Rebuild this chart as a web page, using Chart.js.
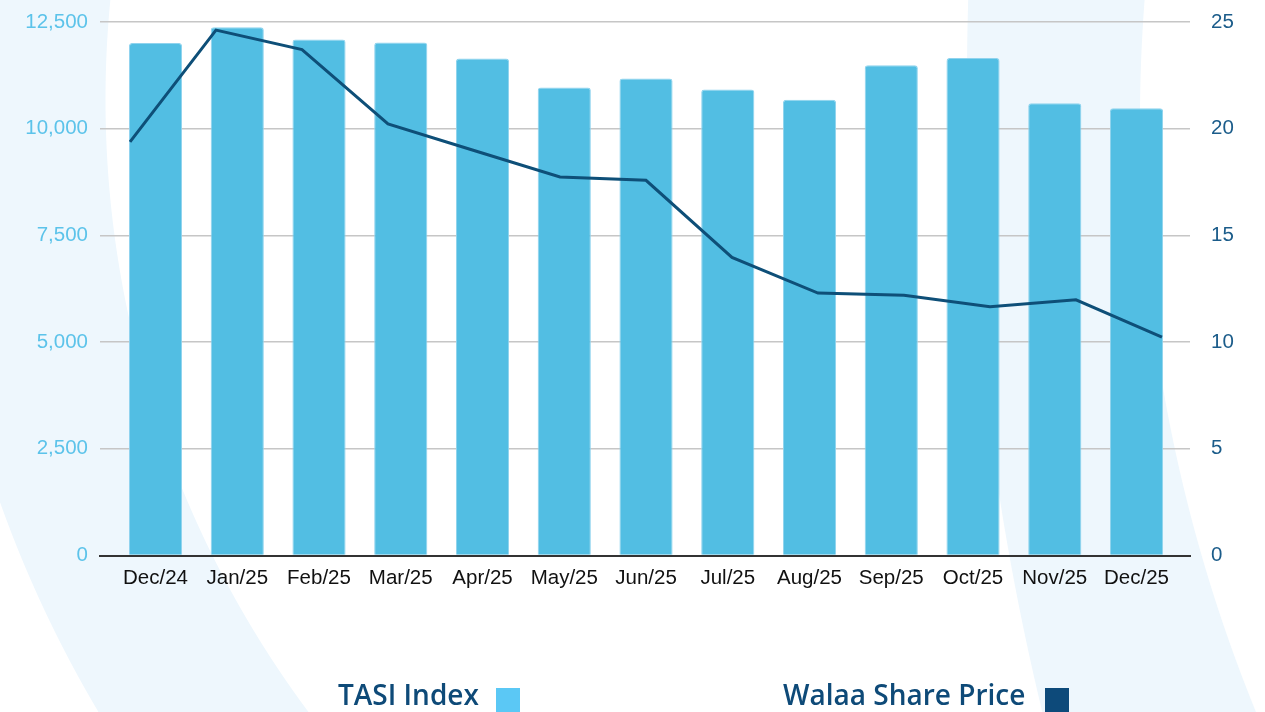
<!DOCTYPE html>
<html>
<head>
<meta charset="utf-8">
<script src="https://cdn.jsdelivr.net/npm/chart.js@4.4.1/dist/chart.umd.min.js"></script>
<style>
  html, body { margin: 0; padding: 0; background: #fff; }
  #wrap { position: relative; width: 1265px; height: 712px; overflow: hidden; }
  #c { position: absolute; left: 0; top: 0; }
  .lg { position: absolute; font-family: "Open Sans", sans-serif; font-size: 28px; line-height: 29px;
        font-weight: 600; color: #0e4a78; white-space: nowrap; }
  .box { position: absolute; width: 24px; height: 24px; }
</style>
</head>
<body>
<div id="wrap">
  <canvas id="c" width="1265" height="712"></canvas>
  <div class="lg" id="lg1" style="left:338px; top:680px;">TASI Index</div>
  <div class="box" style="left:496px; top:688px; background:#5bc8f5;"></div>
  <div class="lg" id="lg2" style="left:783px; top:680px;">Walaa Share Price</div>
  <div class="box" style="left:1045px; top:688px; background:#0d4a7a;"></div>
</div>
<script>
const categories = ["Dec/24","Jan/25","Feb/25","Mar/25","Apr/25","May/25","Jun/25","Jul/25","Aug/25","Sep/25","Oct/25","Nov/25","Dec/25"];
const tasiIndex = [12010, 12377, 12088, 12018, 11643, 10963, 11174, 10916, 10681, 11486, 11659, 10595, 10477];
const walaaSharePrice = [19.38, 24.62, 23.71, 20.22, 18.98, 17.74, 17.58, 13.97, 12.30, 12.19, 11.66, 11.98, 10.23];
const leftTicks = [0, 2500, 5000, 7500, 10000, 12500];
const rightTicks = [0, 5, 10, 15, 20, 25];

const BG = '#eef7fd';
function ringPath(ctx, cx, cy, rOuter, cxI, cyI, rInner, y0, y1) {
  ctx.beginPath();
  for (let y = y0; y <= y1; y += 4) {
    const x = cx - Math.sqrt(Math.max(0, rOuter * rOuter - (y - cy) * (y - cy)));
    if (y === y0) ctx.moveTo(x, y); else ctx.lineTo(x, y);
  }
  for (let y = y1; y >= y0; y -= 4) {
    const x = cxI - Math.sqrt(Math.max(0, rInner * rInner - (y - cyI) * (y - cyI)));
    ctx.lineTo(x, y);
  }
  ctx.closePath();
  ctx.fill();
}
const backgroundPlugin = {
  id: 'bgBands',
  beforeDraw(chart) {
    const ctx = chart.ctx;
    ctx.save();
    ctx.fillStyle = '#ffffff';
    ctx.fillRect(0, 0, chart.width, chart.height);
    ctx.fillStyle = BG;
    ringPath(ctx, 1130.5, 99.7, 1200, 1130.5, 99.7, 1025, -4, 716);
    ringPath(ctx, 3656, 80, 2689, 2709, 120, 1569, -4, 716);
    ctx.restore();
  }
};

const leftAxisWidth = 100, rightAxisWidth = 75;
function fixVertical(width) {
  return function (s) { s.width = width; s.paddingTop = 0; s.paddingBottom = 0; };
}

new Chart(document.getElementById('c'), {
  type: 'bar',
  data: {
    datasets: [
      {
        type: 'line',
        label: 'Walaa Share Price',
        data: categories.map((c, i) => ({ x: i, y: walaaSharePrice[i] })),
        xAxisID: 'x2', yAxisID: 'y1',
        borderColor: '#0e4f78', borderWidth: 3,
        pointRadius: 0, tension: 0, order: 0
      },
      {
        type: 'bar',
        label: 'TASI Index',
        data: categories.map((c, i) => ({ x: i, y: tasiIndex[i] })),
        xAxisID: 'x', yAxisID: 'y',
        backgroundColor: '#52bee3',
        borderColor: '#8fd3ee', borderWidth: 1,
        borderRadius: { topLeft: 3, topRight: 3 },
        barPercentage: 0.65, categoryPercentage: 1,
        grouped: false,
        order: 1
      }
    ]
  },
  options: {
    responsive: false,
    animation: false,
    layout: { padding: { top: 22, bottom: 116.5, left: 0, right: 0 } },
    plugins: { legend: { display: false }, tooltip: { enabled: false } },
    scales: {
      x: {
        type: 'linear', position: 'bottom', offset: false,
        min: -0.679, max: 12.654,
        afterFit(s) { s.height = 40; s.paddingLeft = 0; s.paddingRight = 0; },
        grid: { display: false, drawTicks: false, offset: false },
        border: { display: true, color: '#333333', width: 2 },
        ticks: {
          stepSize: 1, includeBounds: false, autoSkip: false, maxRotation: 0, minRotation: 0,
          padding: 11, color: '#111111',
          font: { family: 'Liberation Sans, Arial, sans-serif', size: 20.5 },
          callback: (v) => categories[v] !== undefined ? categories[v] : ''
        }
      },
      x2: {
        type: 'linear', display: false, offset: false,
        min: -0.349, max: 12.326
      },
      y: {
        position: 'left', min: 0, max: 12500,
        afterFit: fixVertical(leftAxisWidth),
        afterBuildTicks(s) { s.ticks = leftTicks.map(v => ({ value: v })); },
        grid: { color: '#c6c6c6', lineWidth: 1.5, drawTicks: false },
        border: { display: false },
        ticks: {
          padding: 12, color: '#5cc3ea',
          font: { family: 'Liberation Sans, Arial, sans-serif', size: 20.5 }
        }
      },
      y1: {
        position: 'right', min: 0, max: 25,
        afterFit: fixVertical(rightAxisWidth),
        afterBuildTicks(s) { s.ticks = rightTicks.map(v => ({ value: v })); },
        grid: { display: false, drawTicks: false },
        border: { display: false },
        ticks: {
          padding: 21, color: '#1b5c8a',
          font: { family: 'Liberation Sans, Arial, sans-serif', size: 20.5 }
        }
      }
    }
  },
  plugins: [backgroundPlugin]
});
</script>
</body>
</html>
